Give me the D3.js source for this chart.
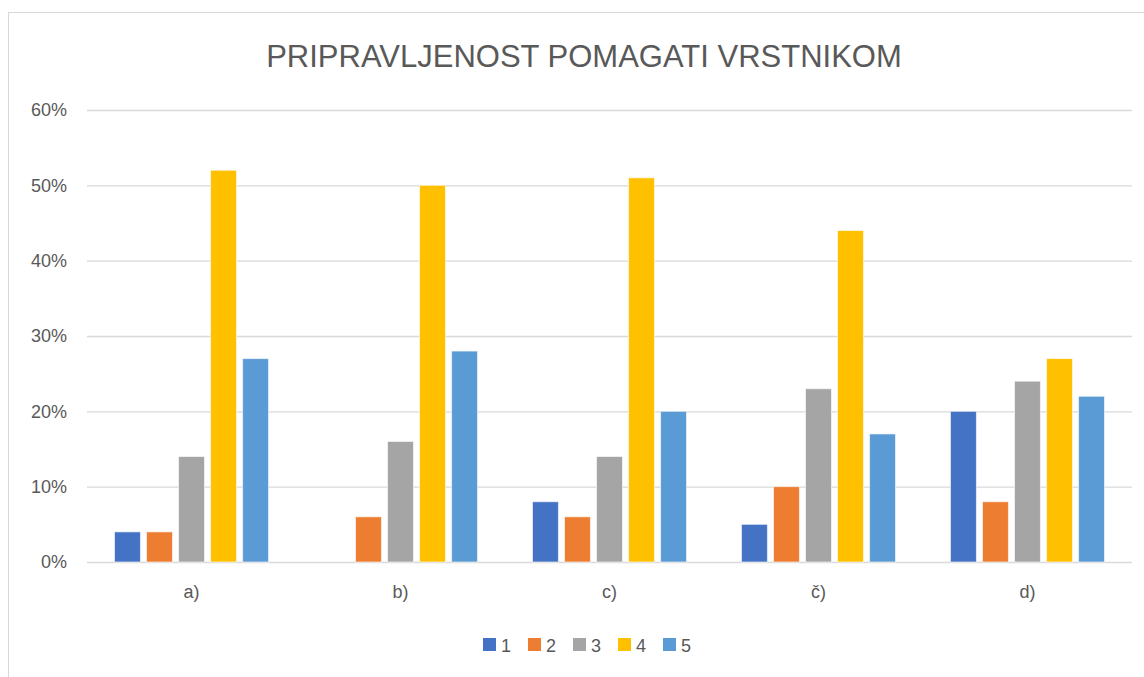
<!DOCTYPE html>
<html>
<head>
<meta charset="utf-8">
<script src="https://cdn.jsdelivr.net/npm/d3@7"></script>
<style>
  body { margin: 0; background: #fff; }
  text { font-family: "Liberation Sans", "DejaVu Sans", sans-serif; fill: #595959; }
</style>
</head>
<body>
<svg id="chart" width="1144" height="677"></svg>
<script>
// chart data
var categories = ['a)', 'b)', 'c)', 'č)', 'd)'];
var seriesNames = ['1', '2', '3', '4', '5'];
var seriesColors = ['#4472C4', '#ED7D31', '#A5A5A5', '#FFC000', '#5B9BD5'];
var values1 = [4, 0, 8, 5, 20];
var values2 = [4, 6, 6, 10, 8];
var values3 = [14, 16, 14, 23, 24];
var values4 = [52, 50, 51, 44, 27];
var values5 = [27, 28, 20, 17, 22];
var yTicks = [0, 10, 20, 30, 40, 50, 60];
var title = 'PRIPRAVLJENOST POMAGATI VRSTNIKOM';

var allSeries = [values1, values2, values3, values4, values5];
var rows = categories.map(function(c, i) {
  return { cat: c, vals: allSeries.map(function(s, j) { return { key: seriesNames[j], value: s[i] }; }) };
});

var svg = d3.select('#chart');

var margin = { top: 110, bottom: 115, left: 87, right: 12 };
var width = 1144, height = 677;

// chart frame (only top/left visible in the shot)
svg.append('rect')
  .attr('x', 8.5).attr('y', 12.5)
  .attr('width', 1160).attr('height', 700)
  .attr('fill', 'none').attr('stroke', '#d9d9d9');

var x0 = d3.scaleBand()
  .domain(categories)
  .range([margin.left, width - margin.right])
  .paddingInner(0.263)
  .paddingOuter(0.1316);

var x1 = d3.scaleBand()
  .domain(seriesNames)
  .range([0, x0.bandwidth()])
  .paddingInner(0.19);

var y = d3.scaleLinear()
  .domain([0, 60])
  .range([height - margin.bottom, margin.top]);

var color = d3.scaleOrdinal().domain(seriesNames).range(seriesColors);

// gridlines + y labels
var yAxis = svg.append('g')
  .attr('transform', 'translate(' + margin.left + ',0)')
  .call(d3.axisLeft(y).tickValues(yTicks)
    .tickSize(-(width - margin.left - margin.right))
    .tickPadding(20)
    .tickFormat(function(d) { return d + '%'; }));
yAxis.select('.domain').remove();
yAxis.selectAll('.tick line').attr('stroke', '#d9d9d9').attr('stroke-width', 1.3);
yAxis.selectAll('.tick text').style('font-size', '18px').attr('fill', '#595959');

// x labels
var xAxis = svg.append('g')
  .attr('transform', 'translate(0,' + (height - margin.bottom) + ')')
  .call(d3.axisBottom(x0).tickSize(0).tickPadding(23));
xAxis.select('.domain').remove();
xAxis.selectAll('.tick text').style('font-size', '18px').attr('fill', '#595959');

// bars
var groups = svg.selectAll('.group')
  .data(rows)
  .enter()
  .append('g')
  .attr('class', 'group')
  .attr('transform', function(d) { return 'translate(' + x0(d.cat) + ',0)'; });

groups.selectAll('rect')
  .data(function(d) { return d.vals.filter(function(v) { return v.value > 0; }); })
  .enter()
  .append('rect')
  .attr('x', function(d) { return x1(d.key); })
  .attr('y', function(d) { return y(d.value); })
  .attr('width', x1.bandwidth())
  .attr('height', function(d) { return y(0) - y(d.value); })
  .attr('fill', function(d) { return color(d.key); })
  .attr('stroke', '#ffffff')
  .attr('stroke-opacity', 0.6)
  .attr('stroke-width', 1);

// title
svg.append('text')
  .attr('x', 584)
  .attr('y', 67)
  .attr('text-anchor', 'middle')
  .style('font-size', '31px')
  .text(title);

// legend
var legend = svg.append('g')
  .attr('transform', 'translate(483,645)');
var item = legend.selectAll('.item')
  .data(seriesNames)
  .enter()
  .append('g')
  .attr('class', 'item')
  .attr('transform', function(d, i) { return 'translate(' + (i * 45) + ',0)'; });
item.append('rect')
  .attr('x', 0).attr('y', -7)
  .attr('width', 13).attr('height', 13)
  .attr('fill', function(d) { return color(d); });
item.append('text')
  .attr('x', 18)
  .attr('y', 7)
  .style('font-size', '18px')
  .text(function(d) { return d; });
</script>
</body>
</html>
